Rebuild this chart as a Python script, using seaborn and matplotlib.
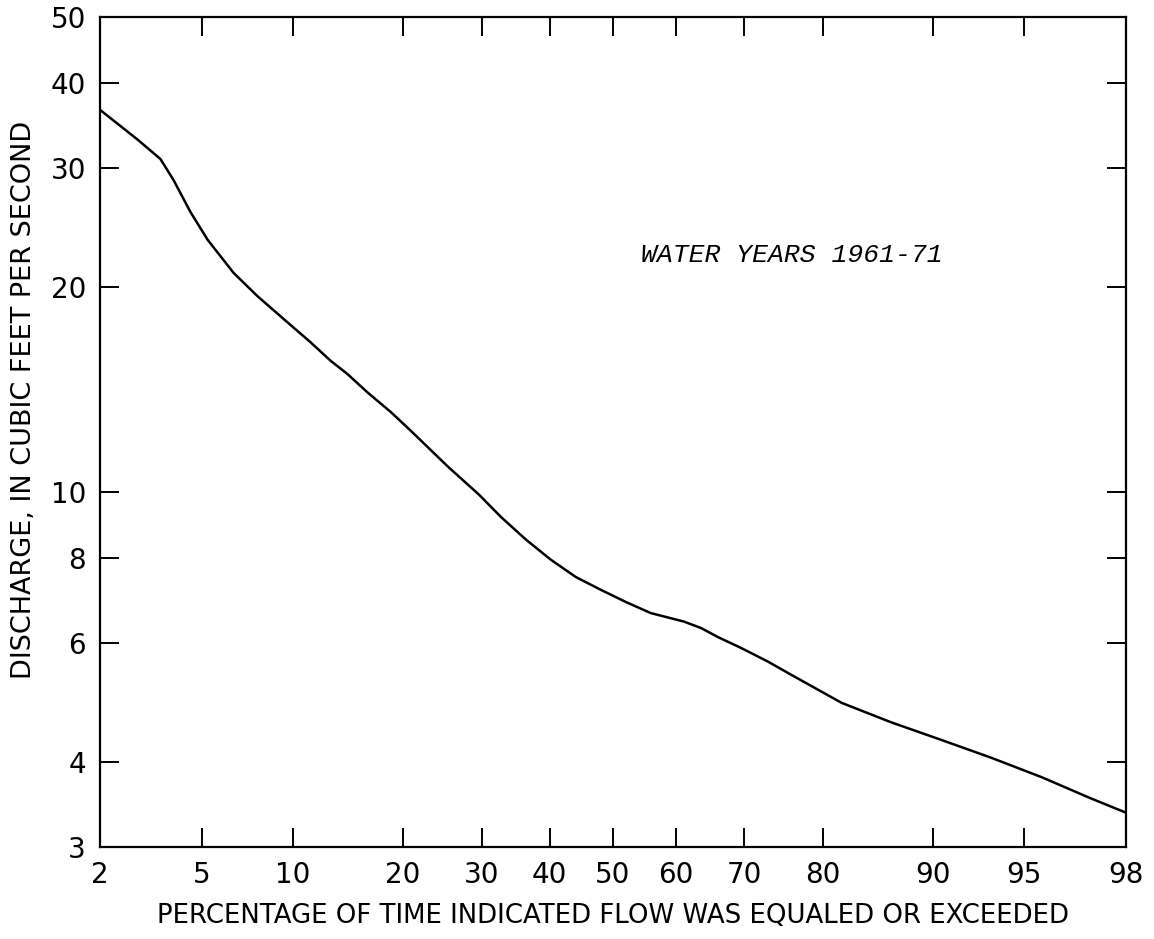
import numpy as np
import matplotlib
matplotlib.use("Agg")
import matplotlib.pyplot as plt
import seaborn as sns
from matplotlib.ticker import FixedLocator, NullLocator
from statistics import NormalDist

# flow duration curve
pct_exceeded = [2, 2.85, 3.5, 3.92, 4.54, 5.23, 6.44, 7.74, 9.84, 11.3, 12.9, 14.4,
                16.3, 18.7, 21.2, 25.4, 29.6, 32.7, 36.4, 40.2, 44.1, 48.1, 52.1,
                56.0, 61.2, 63.8, 66.3, 69.6, 73.3, 76.2, 82.0, 86.7, 90.6, 93.5,
                95.7, 97.2, 98]
discharge = [36.5, 33.0, 30.9, 28.8, 25.8, 23.5, 21.0, 19.4, 17.6, 16.6, 15.6, 14.9,
             14.0, 13.1, 12.2, 10.9, 9.90, 9.18, 8.50, 7.94, 7.49, 7.17, 6.88,
             6.63, 6.44, 6.30, 6.11, 5.89, 5.62, 5.38, 4.89, 4.58, 4.31, 4.06,
             3.80, 3.54, 3.37]

x_ticks = [2, 5, 10, 20, 30, 40, 50, 60, 70, 80, 90, 95, 98]
x_ticklabels = ["2", "5", "10", "20", "30", "40", "50", "60", "70", "80", "90", "95", "98"]
y_ticks = [3, 4, 6, 8, 10, 20, 30, 40, 50]
y_ticklabels = ["3", "4", "6", "8", "10", "20", "30", "40", "50"]

sns.set_style("ticks")
plt.rcParams["font.family"] = ["DejaVu Sans"]
plt.rcParams["text.color"] = "black"
plt.rcParams["axes.labelcolor"] = "black"
plt.rcParams["xtick.color"] = "black"
plt.rcParams["ytick.color"] = "black"

nd = NormalDist()
_fwd = np.vectorize(lambda v: nd.inv_cdf(min(max(v, 1e-6), 100 - 1e-6) / 100), otypes=[float])
_inv = np.vectorize(lambda v: nd.cdf(v) * 100, otypes=[float])


def prob_forward(p):
    return _fwd(np.asarray(p, dtype=float))


def prob_inverse(z):
    return _inv(np.asarray(z, dtype=float))


fig = plt.figure(figsize=(11.54, 9.39), dpi=100)
ax = fig.add_axes([100 / 1154, 1 - 847 / 939, 1026 / 1154, 830 / 939])

ax.set_xscale("function", functions=(prob_forward, prob_inverse))
ax.set_yscale("log")

sns.lineplot(x=pct_exceeded, y=discharge, color="black", linewidth=1.8, ax=ax)

ax.set_xlim(2, 98)
ax.set_ylim(3, 50)

ax.xaxis.set_major_locator(FixedLocator(x_ticks))
ax.xaxis.set_minor_locator(NullLocator())
ax.yaxis.set_major_locator(FixedLocator(y_ticks))
ax.yaxis.set_minor_locator(NullLocator())
ax.set_xticklabels(x_ticklabels, fontsize=20)
ax.set_yticklabels(y_ticklabels, fontsize=20)

ax.tick_params(axis="both", which="major", direction="in", length=14, width=1.4,
               top=True, right=True, color="black", labelcolor="black")
ax.tick_params(axis="x", pad=10)
ax.tick_params(axis="y", pad=10)

for side in ["left", "right", "top", "bottom"]:
    ax.spines[side].set_visible(True)
    ax.spines[side].set_linewidth(1.6)
    ax.spines[side].set_color("black")

ax.set_xlabel("PERCENTAGE OF TIME INDICATED FLOW WAS EQUALED OR EXCEEDED", fontsize=18.7)
ax.set_ylabel("DISCHARGE, IN CUBIC FEET PER SECOND", fontsize=19.5)
ax.xaxis.set_label_coords(0.5, -0.0675)
ax.yaxis.set_label_coords(-0.061, 0.539)

ax.text(54.5, 22.3, "WATER YEARS 1961-71", fontsize=19, style="italic",
        family=["Liberation Mono", "DejaVu Sans Mono"], va="center", ha="left")

fig.savefig("out.png", dpi=100, facecolor="white")
